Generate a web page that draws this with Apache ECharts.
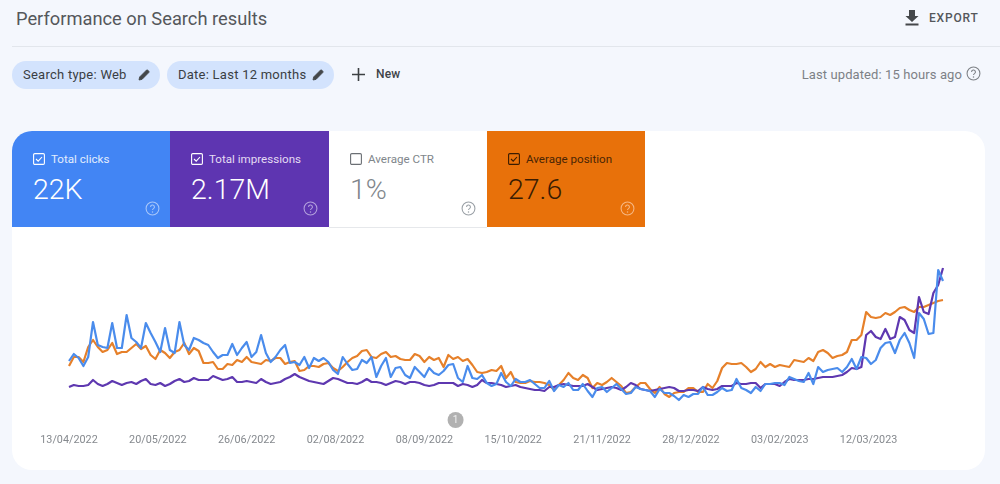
<!DOCTYPE html>
<html>
<head>
<meta charset="utf-8"/>
<script src="https://cdn.jsdelivr.net/npm/echarts@6/dist/echarts.min.js"></script>
<style>
html,body{margin:0;padding:0;}
body{width:1000px;height:484px;overflow:hidden;position:relative;background:#f4f7fd;font-family:Roboto,sans-serif;color:#3c4043;}
.abs{position:absolute;white-space:nowrap;}
.chip{position:absolute;top:61px;height:28px;line-height:27px;background:#d3e3fd;border-radius:14px;font-size:13px;font-weight:400;color:#3a3e43;letter-spacing:.25px;}
.chip span{position:absolute;left:11px;}
.chip svg{position:absolute;top:7px;}
#card{position:absolute;left:12px;top:131px;width:973px;height:339px;background:#fff;border-radius:20px;}
.tile{position:absolute;top:131px;height:96px;}
.tile .name{position:absolute;left:39px;top:21px;font-size:11.6px;line-height:14px;white-space:nowrap;}
.tile .val{position:absolute;left:21px;top:42px;font-size:28.5px;line-height:34px;font-weight:300;}
.tile .box{position:absolute;left:21px;top:22px;}
.tile .help{position:absolute;top:70px;}
#chart{position:absolute;left:12px;top:227px;width:973px;height:243px;}
</style>
</head>
<body>
<svg width="0" height="0" style="position:absolute">
  <symbol id="help" viewBox="0 0 14 14"><circle cx="7" cy="7" r="6" fill="none" stroke="currentColor" stroke-width="1"/><path d="M5.200 5.600a1.800 1.800 0 1 1 2.700 1.500c-.6.400-.9.700-.9 1.400" fill="none" stroke="currentColor" stroke-width="1"/><circle cx="7" cy="10.300" r=".7" fill="currentColor"/></symbol>
  <symbol id="pen" viewBox="0 0 14 14"><path d="M2 12l.6-3L9.400 2.200a1 1 0 0 1 1.400 0l1 1a1 1 0 0 1 0 1.400L5 11.400z" fill="currentColor" stroke="currentColor" stroke-width=".8"/></symbol>
  <symbol id="chk" viewBox="0 0 12 12"><rect x=".6" y=".6" width="10.800" height="10.800" rx="1.200" fill="none" stroke="currentColor" stroke-width="1.100"/><path d="M3 6l2.200 2.200L9 4" fill="none" stroke="currentColor" stroke-width="1.100"/></symbol>
  <symbol id="unchk" viewBox="0 0 12 12"><rect x=".6" y=".6" width="10.800" height="10.800" rx="1.200" fill="none" stroke="currentColor" stroke-width="1.100"/></symbol>
</svg>

<div class="abs" style="left:16px;top:8px;font-size:18.300px;line-height:22px;color:#54575b;">Performance on Search results</div>
<svg class="abs" style="left:904px;top:9px;color:#44474a" width="16" height="17" viewBox="0 0 16 17"><path d="M5 1h6v6h3.500L8 13 1.500 7H5zM1.500 14.500h13V16.500h-13z" fill="currentColor"/></svg>
<div class="abs" style="left:929px;top:11px;font-size:12px;line-height:14px;font-weight:500;color:#54575b;letter-spacing:.8px;">EXPORT</div>
<div class="abs" style="left:12px;top:46px;width:988px;height:1px;background:#e2e6ec;"></div>

<div class="chip" style="left:12px;width:148px;"><span>Search type: Web</span><svg style="left:125px;color:#44474a" width="14" height="14"><use href="#pen"/></svg></div>
<div class="chip" style="left:167px;width:167px;"><span>Date: Last 12 months</span><svg style="left:144px;color:#44474a" width="14" height="14"><use href="#pen"/></svg></div>
<svg class="abs" style="left:352px;top:68px;color:#3c4043" width="13" height="13"><path d="M6.500 0v13M0 6.500h13" stroke="currentColor" stroke-width="1.600"/></svg>
<div class="abs" style="left:376px;top:67px;font-size:12px;line-height:14px;font-weight:500;color:#3f4348;letter-spacing:.2px;">New</div>
<div class="abs" style="right:38px;top:67px;font-size:13px;line-height:15px;color:#7d8186;letter-spacing:.1px;">Last updated: 15 hours ago</div>
<svg class="abs" style="left:966px;top:66px;color:#7d8186" width="15" height="15"><use href="#help"/></svg>

<div id="card"></div>
<div id="chart"></div>

<div class="tile" style="left:12px;width:158px;background:#4285f4;border-top-left-radius:20px;color:#fff;">
  <svg class="box" width="12" height="12"><use href="#chk"/></svg><div class="name" style="color:#e3edfd">Total clicks</div><div class="val">22K</div>
  <svg class="help" style="left:133px;color:#a9c7f9" width="15" height="15"><use href="#help"/></svg>
</div>
<div class="tile" style="left:170px;width:159px;background:#5e35b1;color:#fff;">
  <svg class="box" width="12" height="12"><use href="#chk"/></svg><div class="name" style="color:#e4dcf3">Total impressions</div><div class="val">2.17M</div>
  <svg class="help" style="left:133px;color:#b3a0dd" width="15" height="15"><use href="#help"/></svg>
</div>
<div class="tile" style="left:329px;width:158px;background:#fff;border-bottom:1px solid #e6e8eb;color:#80868b;">
  <svg class="box" width="12" height="12" style="color:#6b6f74"><use href="#unchk"/></svg><div class="name">Average CTR</div><div class="val">1%</div>
  <svg class="help" style="left:132px;color:#9aa0a6" width="15" height="15"><use href="#help"/></svg>
</div>
<div class="tile" style="left:487px;width:158px;background:#e8710a;color:#3a1c02;">
  <svg class="box" width="12" height="12"><use href="#chk"/></svg><div class="name" style="color:#4a2505">Average position</div><div class="val">27.6</div>
  <svg class="help" style="left:133px;color:#f6b783" width="15" height="15"><use href="#help"/></svg>
</div>

<script>
// first date label, then one every 37 days
var tickLabels = ['13/04/2022','20/05/2022','26/06/2022','02/08/2022','08/09/2022','15/10/2022','21/11/2022','28/12/2022','03/02/2023','12/03/2023'];

// one value every second day, relative scale (metrics share no visible axis)
var clicks = [49,56,52,44,53,88,65,63,62,87,62,62,95,72,68,62,87,77,68,58,82,60,57,88,65,60,72,70,67,65,58,52,55,55,66,55,62,
  68,53,58,75,57,48,53,60,65,47,48,45,53,42,52,49,52,48,40,36,53,46,40,41,50,47,53,33,44,52,33,42,43,35,32,43,38,
  33,42,37,35,39,45,46,32,28,44,32,31,35,27,24,26,37,28,24,31,28,28,30,26,22,22,29,19,25,23,27,20,20,26,19,13,
  22,23,18,22,26,21,16,17,23,21,20,19,13,21,17,17,14,10,15,13,16,16,23,15,15,18,22,19,20,31,22,20,17,23,19,26,
  26,27,27,25,33,31,29,28,37,26,43,38,40,41,42,38,43,51,41,53,52,46,50,62,67,68,57,70,77,67,52,97,91,76,77,140,129];

var impressions = [23,25,24,24,25,30,26,24,26,29,27,25,27,28,26,29,31,26,25,27,24,26,29,31,28,29,32,30,30,30,34,32,30,31,33,28,28,
  29,28,27,31,28,26,27,28,31,33,36,33,31,29,28,27,26,29,32,31,29,27,27,26,28,31,28,28,27,25,27,29,28,26,28,28,27,
  25,24,25,27,27,27,27,24,26,25,23,25,30,27,27,26,25,23,24,25,23,22,21,20,20,19,23,23,25,26,25,24,24,24,26,23,
  20,21,22,23,22,20,23,27,25,21,20,19,20,21,22,23,22,19,19,20,20,19,23,21,20,21,24,24,24,27,26,26,27,27,22,26,
  26,26,24,28,31,30,30,30,31,31,32,33,33,33,34,35,38,42,41,43,75,79,73,71,81,71,73,93,90,80,77,113,98,96,117,125,142];

var position = [44,53,53,48,63,70,63,58,60,67,56,58,58,62,66,61,64,55,51,60,57,52,58,60,67,56,62,59,47,47,48,41,41,46,45,50,48,
  53,48,47,46,50,49,52,52,46,48,49,39,40,44,44,43,46,47,42,39,43,48,52,54,59,60,53,52,56,58,53,54,51,50,50,56,54,
  48,53,50,52,43,55,51,53,49,51,45,38,37,38,40,39,44,32,38,28,27,27,29,28,28,27,25,20,25,30,37,32,30,35,32,22,
  27,25,28,32,28,24,17,18,23,27,27,21,17,23,16,13,17,18,18,22,22,18,18,26,22,29,42,47,46,46,47,43,38,41,48,43,
  46,43,45,44,43,50,49,48,52,49,58,60,57,52,54,55,58,70,70,75,98,93,92,93,97,95,98,102,103,100,98,103,103,105,107,109,110];

// annotation bubble under the lines: [day, relative value]
var annotation = [[161,-10]];

function byDay(vals){
  var out = [];
  for(var i=0;i<vals.length;i++){ out.push([i*2, vals[i]]); }
  return out;
}
function line(name, color, vals){
  return {name:name, type:'line', data:byDay(vals), symbol:'none', smooth:false,
    lineStyle:{color:color, width:2.2, join:'round'}, itemStyle:{color:color}};
}

var chart = echarts.init(document.getElementById('chart'));
chart.setOption({
  animation:false,
  grid:{left:57, right:42, top:23, bottom:60},
  xAxis:{type:'value', min:0, max:364, interval:37,
    axisLine:{show:false}, axisTick:{show:false}, splitLine:{show:false},
    axisLabel:{show:true, margin:25, color:'#85898e', fontFamily:'Roboto', fontSize:10.8, showMaxLabel:false,
      formatter:function(v){ return tickLabels[v/37] || ''; }}},
  yAxis:{type:'value', min:0, max:160, show:false},
  series:[
    line('Average position','#e6802a',position),
    line('Total impressions','#5e38b0',impressions),
    line('Total clicks','#4a8cec',clicks),
    {name:'Annotation', type:'scatter', data:annotation, clip:false, symbolSize:16,
      itemStyle:{color:'#9e9e9e'},
      label:{show:true, position:'inside', formatter:'1', color:'#fff', fontSize:10, fontFamily:'Roboto'}}
  ]
});
</script>
</body>
</html>
